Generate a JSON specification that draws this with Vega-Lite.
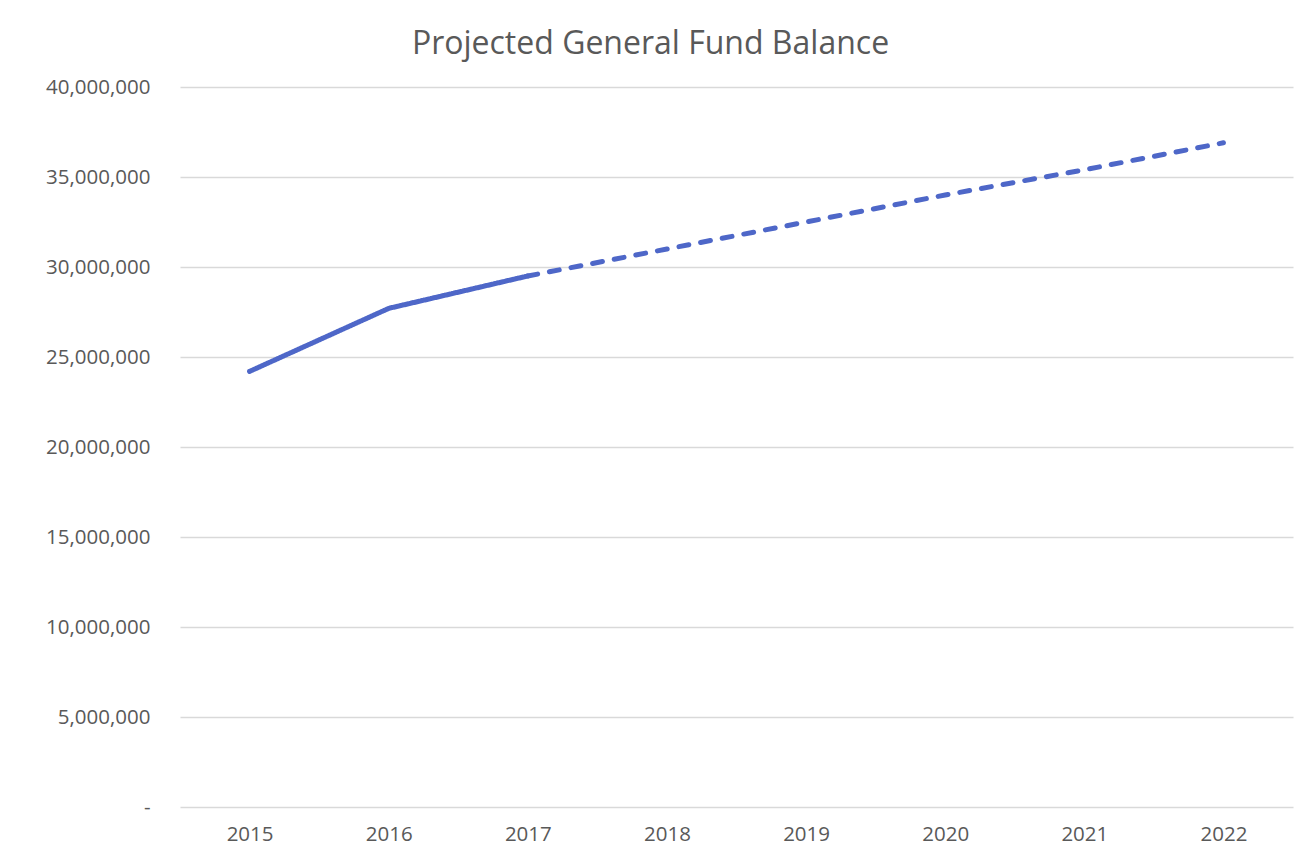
{
  "$schema": "https://vega.github.io/schema/vega-lite/v6.json",
  "autosize": {"type": "none"},
  "padding": {"left": 180, "top": 87, "right": 6, "bottom": 55},
  "width": 1113,
  "height": 720,
  "background": "white",
  "title": {
    "text": "Projected General Fund Balance",
    "anchor": "middle",
    "dx": -86,
    "offset": 16,
    "font": "Open Sans",
    "fontSize": 32,
    "fontWeight": "normal",
    "color": "#595959"
  },
  "data": {
    "values": [
      {"year": "2015", "balance": 24200000, "series": "Actual"},
      {"year": "2016", "balance": 27700000, "series": "Actual"},
      {"year": "2017", "balance": 29500000, "series": "Actual"},
      {"year": "2017", "balance": 29500000, "series": "Projected"},
      {"year": "2018", "balance": 31000000, "series": "Projected"},
      {"year": "2019", "balance": 32500000, "series": "Projected"},
      {"year": "2020", "balance": 34000000, "series": "Projected"},
      {"year": "2021", "balance": 35400000, "series": "Projected"},
      {"year": "2022", "balance": 36900000, "series": "Projected"}
    ]
  },
  "mark": {"type": "line", "color": "#4E67C8", "strokeWidth": 5, "strokeCap": "round"},
  "encoding": {
    "x": {
      "field": "year",
      "type": "ordinal",
      "scale": {"type": "point", "padding": 0.5},
      "axis": {
        "title": null,
        "labelAngle": 0,
        "ticks": false,
        "domain": false,
        "grid": false,
        "labelPadding": 17,
        "labelFont": "Open Sans",
        "labelFontSize": 20.5,
        "labelColor": "#595959"
      }
    },
    "y": {
      "field": "balance",
      "type": "quantitative",
      "scale": {"domain": [0, 40000000], "nice": false},
      "axis": {
        "title": null,
        "values": [0, 5000000, 10000000, 15000000, 20000000, 25000000, 30000000, 35000000, 40000000],
        "labelExpr": "datum.value == 0 ? '-' : format(datum.value, ',')",
        "ticks": false,
        "domain": false,
        "grid": true,
        "gridColor": "#d9d9d9",
        "gridWidth": 1.5,
        "labelPadding": 30,
        "labelFont": "Open Sans",
        "labelFontSize": 20.5,
        "labelColor": "#595959"
      }
    },
    "strokeDash": {
      "field": "series",
      "type": "nominal",
      "scale": {"domain": ["Actual", "Projected"], "range": [[1, 0], [10, 12]]},
      "legend": null
    },
    "detail": {"field": "series"}
  },
  "config": {"view": {"stroke": null}}
}
